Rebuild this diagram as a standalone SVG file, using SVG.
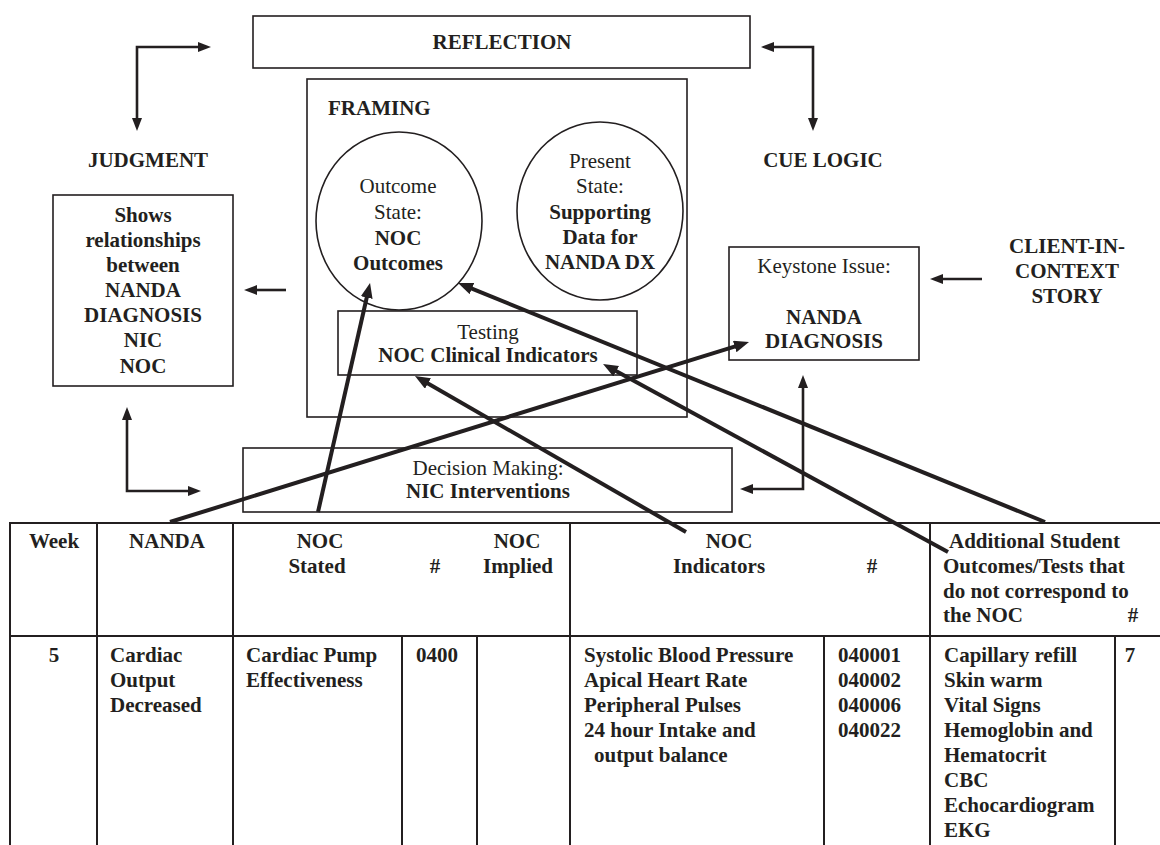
<svg xmlns="http://www.w3.org/2000/svg" width="1160" height="845" viewBox="0 0 1160 845">
  <style>
    text { font-family: "Liberation Serif", "Times New Roman", serif; font-size: 21px; fill: #231f20; }
    .b { font-weight: bold; }
    .c { text-anchor: middle; }
    .box { fill: none; stroke: #231f20; stroke-width: 1.6; }
    .thin { fill: none; stroke: #231f20; stroke-width: 2.6; stroke-linejoin: miter; }
    .thick { fill: none; stroke: #231f20; stroke-width: 4; stroke-linecap: butt; }
    .grid { stroke: #231f20; stroke-width: 2; }
  </style>
  <defs>
    <marker id="headThin" markerUnits="userSpaceOnUse" markerWidth="14" markerHeight="11" refX="3" refY="5" orient="auto-start-reverse">
      <path d="M0,0 L13,5 L0,10 z" fill="#231f20"/>
    </marker>
    <marker id="headThick" markerUnits="userSpaceOnUse" markerWidth="16" markerHeight="13" refX="4" refY="6" orient="auto">
      <path d="M0,0 L15,6 L0,12 z" fill="#231f20"/>
    </marker>
  </defs>
  <rect width="1160" height="845" fill="#ffffff"/>

  <!-- Cycle labels -->
  <g id="judgment-label"><text class="b c" x="148" y="167">JUDGMENT</text></g>
  <g id="cue-logic-label"><text class="b c" x="823" y="167">CUE LOGIC</text></g>
  <g id="client-story">
    <text class="b c" x="1067" y="253">CLIENT-IN-</text>
    <text class="b c" x="1067" y="278">CONTEXT</text>
    <text class="b c" x="1067" y="303">STORY</text>
  </g>

  <!-- Reflection -->
  <g id="reflection">
    <rect class="box" x="253" y="16" width="497" height="52"/>
    <text class="b c" x="502" y="49">REFLECTION</text>
  </g>

  <!-- Framing frame with its two states and testing box -->
  <g id="framing">
    <rect class="box" x="307" y="79" width="380" height="338"/>
    <text class="b" x="328" y="115">FRAMING</text>
  </g>
  <g id="outcome-state">
    <ellipse class="box" cx="399" cy="221" rx="83" ry="89"/>
    <text class="c" x="398" y="193">Outcome</text>
    <text class="c" x="398" y="219">State:</text>
    <text class="b c" x="398" y="245">NOC</text>
    <text class="b c" x="398" y="270">Outcomes</text>
  </g>
  <g id="present-state">
    <ellipse class="box" cx="600" cy="211" rx="83" ry="89"/>
    <text class="c" x="600" y="168">Present</text>
    <text class="c" x="600" y="193">State:</text>
    <text class="b c" x="600" y="219">Supporting</text>
    <text class="b c" x="600" y="244">Data for</text>
    <text class="b c" x="600" y="269">NANDA DX</text>
  </g>
  <g id="testing">
    <rect class="box" x="338" y="311" width="299" height="64"/>
    <text class="c" x="488" y="339">Testing</text>
    <text class="b c" x="488" y="362">NOC Clinical Indicators</text>
  </g>

  <!-- Judgment box -->
  <g id="relationships">
    <rect class="box" x="53" y="195" width="180" height="191"/>
    <text class="b c" x="143" y="222">Shows</text>
    <text class="b c" x="143" y="247">relationships</text>
    <text class="b c" x="143" y="272">between</text>
    <text class="b c" x="143" y="297">NANDA</text>
    <text class="b c" x="143" y="322">DIAGNOSIS</text>
    <text class="b c" x="143" y="347">NIC</text>
    <text class="b c" x="143" y="373">NOC</text>
  </g>

  <!-- Keystone issue -->
  <g id="keystone">
    <rect class="box" x="729" y="247" width="190" height="113"/>
    <text class="c" x="824" y="273">Keystone Issue:</text>
    <text class="b c" x="824" y="324">NANDA</text>
    <text class="b c" x="824" y="348">DIAGNOSIS</text>
  </g>

  <!-- Decision making -->
  <g id="decision-making">
    <rect class="box" x="243" y="448" width="489" height="64"/>
    <text class="c" x="488" y="475">Decision Making:</text>
    <text class="b c" x="488" y="498">NIC Interventions</text>
  </g>

  <!-- Worksheet table -->
  <g id="worksheet">
    <line class="grid" x1="10" y1="523" x2="1160" y2="523"/>
    <line class="grid" x1="10" y1="636" x2="1160" y2="636"/>
    <line class="grid" x1="10" y1="522" x2="10" y2="845"/>
    <line class="grid" x1="97" y1="522" x2="97" y2="845"/>
    <line class="grid" x1="233" y1="522" x2="233" y2="845"/>
    <line class="grid" x1="570" y1="522" x2="570" y2="845"/>
    <line class="grid" x1="930" y1="522" x2="930" y2="845"/>
    <line class="grid" x1="402" y1="636" x2="402" y2="845"/>
    <line class="grid" x1="477" y1="636" x2="477" y2="845"/>
    <line class="grid" x1="824" y1="636" x2="824" y2="845"/>
    <line class="grid" x1="1115" y1="636" x2="1115" y2="845"/>

    <!-- header row -->
    <text class="b c" x="54" y="548">Week</text>
    <text class="b c" x="167" y="548">NANDA</text>
    <text class="b c" x="320" y="548">NOC</text>
    <text class="b c" x="317" y="573">Stated</text>
    <text class="b c" x="435" y="573">#</text>
    <text class="b c" x="517" y="548">NOC</text>
    <text class="b c" x="518" y="573">Implied</text>
    <text class="b c" x="729" y="548">NOC</text>
    <text class="b c" x="719" y="573">Indicators</text>
    <text class="b c" x="872" y="573">#</text>
    <text class="b" x="949" y="548">Additional Student</text>
    <text class="b" x="943" y="573">Outcomes/Tests that</text>
    <text class="b" x="943" y="598">do not correspond to</text>
    <text class="b" x="943" y="622">the NOC</text>
    <text class="b c" x="1133" y="622">#</text>

    <!-- data row -->
    <text class="b c" x="54" y="662">5</text>
    <text class="b" x="110" y="662">Cardiac</text>
    <text class="b" x="110" y="687">Output</text>
    <text class="b" x="110" y="712">Decreased</text>
    <text class="b" x="246" y="662">Cardiac Pump</text>
    <text class="b" x="246" y="687">Effectiveness</text>
    <text class="b" x="416" y="662">0400</text>
    <text class="b" x="584" y="662">Systolic Blood Pressure</text>
    <text class="b" x="584" y="687">Apical Heart Rate</text>
    <text class="b" x="584" y="712">Peripheral Pulses</text>
    <text class="b" x="584" y="737">24 hour Intake and</text>
    <text class="b" x="594" y="762">output balance</text>
    <text class="b" x="838" y="662">040001</text>
    <text class="b" x="838" y="687">040002</text>
    <text class="b" x="838" y="712">040006</text>
    <text class="b" x="838" y="737">040022</text>
    <text class="b" x="944" y="662">Capillary refill</text>
    <text class="b" x="944" y="687">Skin warm</text>
    <text class="b" x="944" y="712">Vital Signs</text>
    <text class="b" x="944" y="737">Hemoglobin and</text>
    <text class="b" x="944" y="762">Hematocrit</text>
    <text class="b" x="944" y="787">CBC</text>
    <text class="b" x="944" y="812">Echocardiogram</text>
    <text class="b" x="944" y="837">EKG</text>
    <text class="b c" x="1130" y="662">7</text>
  </g>

  <!-- Connectors -->
  <g id="connectors">
    <!-- cycle brackets -->
    <path class="thin" d="M137,121 L137,47 L201,47" marker-start="url(#headThin)" marker-end="url(#headThin)"/>
    <path class="thin" d="M127,417 L127,491 L191,491" marker-start="url(#headThin)" marker-end="url(#headThin)"/>
    <path class="thin" d="M771,47 L813,47 L813,121" marker-start="url(#headThin)" marker-end="url(#headThin)"/>
    <path class="thin" d="M803,385 L803,489 L750,489" marker-start="url(#headThin)" marker-end="url(#headThin)"/>
    <path class="thin" d="M286,290 L254,290" marker-end="url(#headThin)"/>
    <path class="thin" d="M982,279 L940,279" marker-end="url(#headThin)"/>

    <!-- table columns to diagram elements -->
    <path class="thick" d="M170,522 L738.5,345.3" marker-end="url(#headThick)"/>
    <path class="thick" d="M318,512 L367.6,293.7" marker-end="url(#headThick)"/>
    <path class="thick" d="M686,532 L424.5,381.5" marker-end="url(#headThick)"/>
    <path class="thick" d="M948,552 L612.7,369.3" marker-end="url(#headThick)"/>
    <path class="thick" d="M1045,522 L468.2,287.1" marker-end="url(#headThick)"/>
  </g>
</svg>
